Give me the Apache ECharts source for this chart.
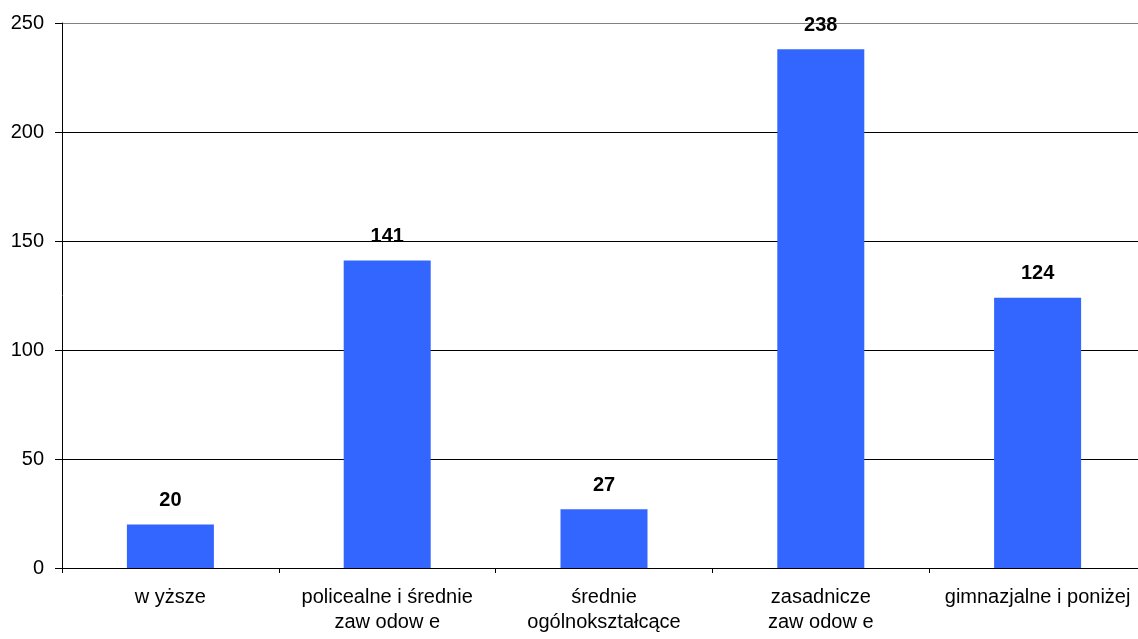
<!DOCTYPE html>
<html><head><meta charset="utf-8">
<script src="https://cdn.jsdelivr.net/npm/echarts@6/dist/echarts.min.js"></script>
<style>html,body{margin:0;padding:0;background:#fff;overflow:hidden}#c{width:1146px;height:639px}</style>
</head><body><div id="c"></div>
<script>
const categories = ['w yższe', 'policealne i średnie\nzaw odow e', 'średnie\nogólnokształcące', 'zasadnicze\nzaw odow e', 'gimnazjalne i poniżej'];
const values = [20, 141, 27, 238, 124];
const yTicks = [0, 50, 100, 150, 200, 250];

const FONT = 'Liberation Sans, Arial, sans-serif';
const chart = echarts.init(document.getElementById('c'), null, {renderer: 'canvas'});
chart.setOption({
  animation: false,
  backgroundColor: '#ffffff',
  grid: {left: 62, top: 23, bottom: 71, right: 0, containLabel: false},
  xAxis: {
    type: 'category', data: categories,
    axisLine: {lineStyle: {color: '#000', width: 1}},
    axisTick: {show: true, length: 5, lineStyle: {color: '#000'}},
    axisLabel: {color: '#000', fontFamily: FONT, fontSize: 20, margin: 17, lineHeight: 25, interval: 0}
  },
  yAxis: {
    type: 'value', min: yTicks[0], max: yTicks[yTicks.length - 1], interval: 50,
    axisLine: {show: true, lineStyle: {color: '#000'}},
    axisTick: {show: true, length: 7, lineStyle: {color: '#000'}},
    axisLabel: {color: '#000', fontFamily: FONT, fontSize: 20, margin: 18},
    splitLine: {show: true, lineStyle: {color: ['#000', '#000', '#000', '#000', '#000', '#808080'], width: 1}}
  },
  series: [{
    type: 'bar', data: values, barWidth: 87,
    itemStyle: {color: '#3366FF'},
    label: {show: true, position: 'top', distance: 14, color: '#000', fontWeight: 'bold', fontSize: 20, fontFamily: FONT}
  }]
});
</script></body></html>
